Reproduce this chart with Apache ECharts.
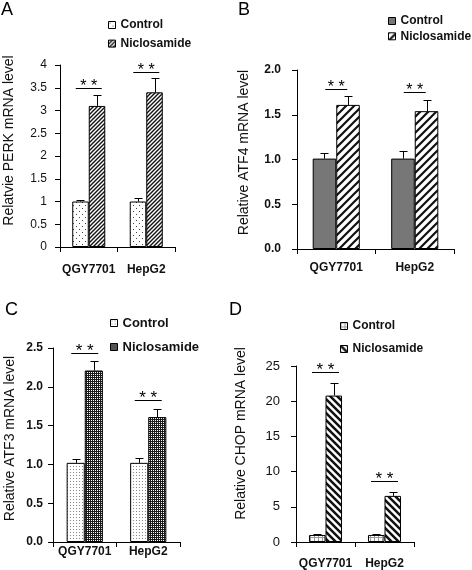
<!DOCTYPE html>
<html><head><meta charset="utf-8">
<script src="https://cdn.jsdelivr.net/npm/echarts/dist/echarts.min.js"></script>
<style>
body{margin:0;background:#fff;width:472px;height:570px;position:relative;overflow:hidden}
.p{position:absolute;height:285px}
</style></head>
<body>
<div id="pA" class="p" style="left:0;top:0;width:236px"></div>
<div id="pB" class="p" style="left:236px;top:0;width:236px"></div>
<div id="pC" class="p" style="left:0;top:285px;width:226px"></div>
<div id="pD" class="p" style="left:226px;top:285px;width:246px"></div>
<script>
// ---------- DATA ----------
const categories = ['QGY7701', 'HepG2'];
const seriesNames = ['Control', 'Niclosamide'];

// A: PERK
const perkCtrl = [1.00, 1.00];
const perkCtrlErr = [0.04, 0.07];
const perkNicl = [3.10, 3.40];
const perkNiclErr = [0.23, 0.31];
const perkSig = [3.50, 3.84];
const perkTicks = [0, 0.5, 1, 1.5, 2, 2.5, 3, 3.5, 4];

// B: ATF4
const atf4Ctrl = [1.01, 1.01];
const atf4CtrlErr = [0.06, 0.09];
const atf4Nicl = [1.61, 1.54];
const atf4NiclErr = [0.10, 0.12];
const atf4Sig = [1.79, 1.75];
const atf4Ticks = ['0.0', '0.5', '1.0', '1.5', '2.0'];

// C: ATF3
const atf3Ctrl = [1.02, 1.02];
const atf3CtrlErr = [0.05, 0.06];
const atf3Nicl = [2.21, 1.61];
const atf3NiclErr = [0.12, 0.11];
const atf3Sig = [2.43, 1.83];
const atf3Ticks = ['0.0', '0.5', '1.0', '1.5', '2.0', '2.5'];

// D: CHOP
const chopCtrl = [1.0, 1.0];
const chopCtrlErr = [0.1, 0.1];
const chopNicl = [20.8, 6.55];
const chopNiclErr = [1.85, 0.5];
const chopSig = [24.1, 8.6];
const chopTicks = [0, 5, 10, 15, 20, 25];

// ---------- PATTERNS ----------
function pat(w, h, bg, draw) {
  const c = document.createElement('canvas');
  c.width = w; c.height = h;
  const g = c.getContext('2d');
  g.fillStyle = bg; g.fillRect(0, 0, w, h);
  draw(g, w, h);
  return { image: c, repeat: 'repeat' };
}
function diag(s, lw, color, back) {
  return pat(s, s, '#fff', (g) => {
    g.strokeStyle = color; g.lineWidth = lw; g.beginPath();
    if (!back) {
      g.moveTo(-1, s + 1); g.lineTo(s + 1, -1);
      g.moveTo(-1, 1); g.lineTo(1, -1);
      g.moveTo(s - 1, s + 1); g.lineTo(s + 1, s - 1);
    } else {
      g.moveTo(-1, -1); g.lineTo(s + 1, s + 1);
      g.moveTo(-1, s - 1); g.lineTo(1, s + 1);
      g.moveTo(s - 1, -1); g.lineTo(s + 1, 1);
    }
    g.stroke();
  });
}
const patA1 = pat(6, 6, '#fff', (g) => { g.fillStyle = '#444'; g.fillRect(1, 1, 1, 1); g.fillRect(4, 4, 1, 1); });
const patA2 = diag(4, 1.4, '#111', false);
const patB1 = '#777777';
const patB2 = diag(8, 2.2, '#111', false);
const patC1 = pat(3, 3, '#fff', (g) => { g.fillStyle = '#888'; g.fillRect(1, 1, 1, 1); });
const patC2 = pat(4, 4, '#1a1a1a', (g) => { g.fillStyle = '#fff'; g.fillRect(1, 1, 1, 1); g.fillRect(3, 3, 1, 1); g.fillRect(1, 3, 1, 1); g.fillRect(3, 1, 1, 1); });
const patD1 = pat(4, 4, '#fff', (g) => { g.fillStyle = '#999'; g.fillRect(0, 0, 4, 1); g.fillRect(0, 0, 1, 4); });
const patD2 = diag(7, 2.5, '#111', true);

// ---------- BUILD ----------
const FONT = '"Liberation Sans", Arial, sans-serif';

function errRender(sign, gapFrac) {
  return function (params, api) {
    const cat = api.value(0), v = api.value(1), e = api.value(2);
    const p0 = api.coord([cat, v]);
    const p1 = api.coord([cat, v + e]);
    const cw = api.size([1, 0])[0];
    const bw = cw * (1 - gapFrac) / 2;
    const x = Math.round(p0[0] + sign * bw / 2) + 0.5;
    const yt = Math.round(p1[1]) + 0.5;
    return {
      type: 'group', children: [
        { type: 'line', shape: { x1: x, y1: p0[1], x2: x, y2: yt }, style: { stroke: '#000', lineWidth: 1 } },
        { type: 'line', shape: { x1: x - 4, y1: yt, x2: x + 4, y2: yt }, style: { stroke: '#000', lineWidth: 1 } }
      ]
    };
  };
}
function sigRender(half, starSize) {
  return function (params, api) {
    const p = api.coord([api.value(0), api.value(1)]);
    const y = Math.round(p[1]) + 0.5;
    return {
      type: 'group', children: [
        { type: 'line', shape: { x1: p[0] - half, y1: y, x2: p[0] + half, y2: y }, style: { stroke: '#000', lineWidth: 1 } },
        { type: 'text', x: p[0], y: y - 2, style: { text: '* *', font: starSize + 'px ' + FONT, fill: '#000', align: 'center', verticalAlign: 'middle' } }
      ]
    };
  };
}

function build(id, c) {
  const chart = echarts.init(document.getElementById(id), null, { renderer: 'canvas' });
  const gap = c.gap;
  const zip = (m, e) => m.map((v, i) => [i, v, e[i]]);
  const graphics = c.letters.map((L) => ({ type: 'text', left: L[1], top: L[2], style: { text: L[0], font: '18px ' + FONT, fill: '#000' } }));
  graphics.push({ type: 'text', x: c.title[0], y: c.title[1], rotation: Math.PI / 2, style: { text: c.titleText, font: c.titleSize + 'px ' + FONT, fill: '#111', align: 'center', verticalAlign: 'middle' } });
  chart.setOption({
    animation: false,
    grid: c.grid,
    legend: {
      orient: 'vertical', left: c.legend.left, top: c.legend.top, itemGap: c.legend.gap, padding: 0,
      itemWidth: 7, itemHeight: 7, icon: 'rect', selectedMode: false,
      data: seriesNames,
      itemStyle: { borderColor: '#000', borderWidth: 1 },
      textStyle: { fontFamily: FONT, fontWeight: 'bold', fontSize: c.legend.font, color: '#111', lineHeight: 14 }
    },
    xAxis: {
      type: 'category', data: categories,
      axisLine: { lineStyle: { color: '#000', width: 1 } },
      axisTick: { show: true, length: 5, lineStyle: { color: '#000' } },
      axisLabel: { color: '#111', fontFamily: FONT, fontWeight: 'bold', fontSize: 12, margin: c.xMargin, interval: 0 }
    },
    yAxis: {
      type: 'value', min: 0, max: c.max, interval: c.interval,
      axisLine: { show: true, lineStyle: { color: '#000', width: 1 } },
      axisTick: { show: true, length: 5, lineStyle: { color: '#000' } },
      splitLine: { show: false },
      axisLabel: {
        color: '#111', fontFamily: FONT, fontWeight: c.tickBold ? 'bold' : 'normal', fontSize: c.tickSize, margin: c.yMargin,
        formatter: (v) => String(c.ticks[Math.round(v / c.interval)])
      }
    },
    graphic: graphics,
    series: [
      { name: seriesNames[0], type: 'bar', data: c.ctrl, barGap: '0%', barCategoryGap: (gap * 100) + '%',
        itemStyle: { color: c.p1, borderColor: '#000', borderWidth: 1 } },
      { name: seriesNames[1], type: 'bar', data: c.nicl, barGap: '0%', barCategoryGap: (gap * 100) + '%',
        itemStyle: { color: c.p2, borderColor: '#000', borderWidth: 1 } },
      { name: 'errCtrl', type: 'custom', z: 5, data: zip(c.ctrl, c.ctrlErr), encode: { x: 0, y: 1 }, renderItem: errRender(-1, gap) },
      { name: 'errNicl', type: 'custom', z: 5, data: zip(c.nicl, c.niclErr), encode: { x: 0, y: 1 }, renderItem: errRender(1, gap) },
      { name: 'sig', type: 'custom', z: 5, data: c.sig.map((v, i) => [i, v]), encode: { x: 0, y: 1 }, renderItem: sigRender(c.sigHalf, c.starSize) }
    ]
  });
}

build('pA', {
  grid: { left: 60, right: 61, top: 65, bottom: 38 }, gap: 0.426,
  max: 4, interval: 0.5, ticks: perkTicks, tickBold: false, tickSize: 12, yMargin: 13, xMargin: 17,
  ctrl: perkCtrl, ctrlErr: perkCtrlErr, nicl: perkNicl, niclErr: perkNiclErr, sig: perkSig,
  p1: patA1, p2: patA2, sigHalf: 13, starSize: 16,
  legend: { left: 108, top: 18, gap: 4.6, font: 12 },
  letters: [['A', 1, 1]], title: [9, 140.5], titleText: 'Relatvie PERK mRNA level', titleSize: 14
});
build('pB', {
  grid: { left: 61, right: 18, top: 70, bottom: 36 }, gap: 0.40,
  max: 2, interval: 0.5, ticks: atf4Ticks, tickBold: true, tickSize: 12, yMargin: 16, xMargin: 13,
  ctrl: atf4Ctrl, ctrlErr: atf4CtrlErr, nicl: atf4Nicl, niclErr: atf4NiclErr, sig: atf4Sig,
  p1: patB1, p2: patB2, sigHalf: 11, starSize: 16,
  legend: { left: 152, top: 14, gap: 1.3, font: 12 },
  letters: [['B', 2, 1]], title: [8, 152.5], titleText: 'Relative ATF4 mRNA level', titleSize: 14
});
build('pC', {
  grid: { left: 53, right: 46, top: 63, bottom: 28 }, gap: 0.43,
  max: 2.5, interval: 0.5, ticks: atf3Ticks, tickBold: true, tickSize: 12, yMargin: 10, xMargin: 4,
  ctrl: atf3Ctrl, ctrlErr: atf3CtrlErr, nicl: atf3Nicl, niclErr: atf3NiclErr, sig: atf3Sig,
  p1: patC1, p2: patC2, sigHalf: 13.5, starSize: 17,
  legend: { left: 110, top: 31, gap: 10, font: 13 },
  letters: [['C', 5, 16]], title: [10, 153.5], titleText: 'Relative ATF3 mRNA level', titleSize: 14
});
build('pD', {
  grid: { left: 70, right: 58, top: 81, bottom: 27 }, gap: 0.44,
  max: 25, interval: 5, ticks: chopTicks, tickBold: false, tickSize: 13, yMargin: 16, xMargin: 16,
  ctrl: chopCtrl, ctrlErr: chopCtrlErr, nicl: chopNicl, niclErr: chopNiclErr, sig: chopSig,
  p1: patD1, p2: patD2, sigHalf: 13.5, starSize: 17,
  legend: { left: 114, top: 34, gap: 9, font: 12 },
  letters: [['D', 3, 16]], title: [15, 148.5], titleText: 'Relative CHOP mRNA level', titleSize: 14
});
</script>
</body></html>
